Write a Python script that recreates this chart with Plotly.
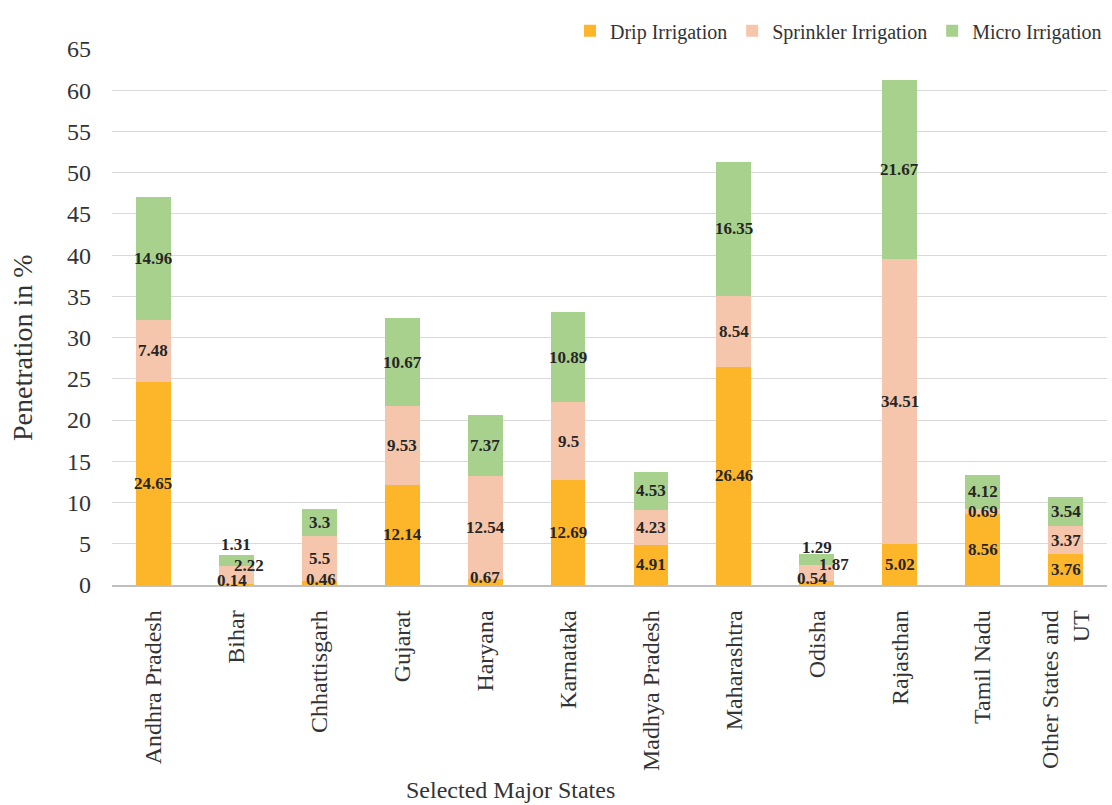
import plotly.graph_objects as go

states = ["Andhra Pradesh", "Bihar", "Chhattisgarh", "Gujarat", "Haryana", "Karnataka",
          "Madhya Pradesh", "Maharashtra", "Odisha", "Rajasthan", "Tamil Nadu",
          "Other States and UT"]
tick_text = ["Andhra Pradesh", "Bihar", "Chhattisgarh", "Gujarat", "Haryana", "Karnataka",
             "Madhya Pradesh", "Maharashtra", "Odisha", "Rajasthan", "Tamil Nadu",
             "Other States and<br>UT"]
drip = [24.65, 0.14, 0.46, 12.14, 0.67, 12.69, 4.91, 26.46, 0.54, 5.02, 8.56, 3.76]
sprinkler = [7.48, 2.22, 5.5, 9.53, 12.54, 9.5, 4.23, 8.54, 1.87, 34.51, 0.69, 3.37]
micro = [14.96, 1.31, 3.3, 10.67, 7.37, 10.89, 4.53, 16.35, 1.29, 21.67, 4.12, 3.54]
y_ticks = list(range(0, 70, 5))

series = [("Drip Irrigation", drip, "#FDB52A"),
          ("Sprinkler Irrigation", sprinkler, "#F5C6AB"),
          ("Micro Irrigation", micro, "#A9D18E")]

# label nudges (px) for crowded small segments, as Excel places them
nudges = {
    (1, 0): (-4, 4), (1, 1): (13, 9), (1, 2): (0, 16),
    (2, 0): (2, 4), (4, 0): (0, 5),
    (8, 0): (-5, 4), (8, 1): (17, 8), (8, 2): (0, 12),
}

SERIF = "Liberation Serif, Times New Roman, serif"
TXT = "#333333"
fig = go.Figure()
for name, vals, col in series:
    fig.add_trace(go.Bar(x=states, y=vals, name=name, marker_color=col,
                         marker_line_width=0))

annotations = []
base = [0.0] * len(states)
for si, (name, vals, col) in enumerate(series):
    for i, v in enumerate(vals):
        mid = base[i] + v / 2
        dx, dy = nudges.get((i, si), (0, 0))
        annotations.append(dict(x=states[i], y=mid, xref="x", yref="y",
                                text=f"<b>{v:g}</b>", showarrow=False,
                                xanchor="center", yanchor="middle",
                                xshift=dx, yshift=dy,
                                font=dict(family=SERIF, size=17, color="#262626")))
        base[i] += v

annotations.append(dict(x=0.4, y=-0.3825, xref="paper", yref="paper",
                        xanchor="center", yanchor="middle",
                        text="Selected Major States", showarrow=False,
                        font=dict(family=SERIF, size=24, color=TXT)))
annotations.append(dict(x=-0.0905, y=0.444, xref="paper", yref="paper",
                        xanchor="center", yanchor="middle", textangle=-90,
                        text="Penetration in %", showarrow=False,
                        font=dict(family=SERIF, size=28, color=TXT)))

fig.update_layout(
    barmode="stack", bargap=0.58,
    width=1112, height=805,
    margin=dict(l=112, r=5, t=49, b=220),
    paper_bgcolor="white", plot_bgcolor="white",
    font=dict(family=SERIF, color=TXT),
    legend=dict(orientation="h", x=1, xanchor="right", y=1.034, yanchor="middle",
                font=dict(family=SERIF, size=20, color=TXT),
                itemwidth=30, traceorder="normal", bgcolor="rgba(0,0,0,0)"),
    annotations=annotations,
    showlegend=True,
)
fig.update_yaxes(range=[0, 65], tickvals=y_ticks, showgrid=True, gridcolor="#D9D9D9",
                 gridwidth=1, zeroline=False, showline=False,
                 tickfont=dict(family=SERIF, size=24, color=TXT),
                 ticklabelstandoff=20)
fig.update_xaxes(tickvals=states, ticktext=tick_text, tickangle=-90,
                 showline=True, linecolor="#BFBFBF", linewidth=1.5,
                 tickfont=dict(family=SERIF, size=24, color=TXT),
                 ticklabelstandoff=14)

fig.write_html("out.html")
